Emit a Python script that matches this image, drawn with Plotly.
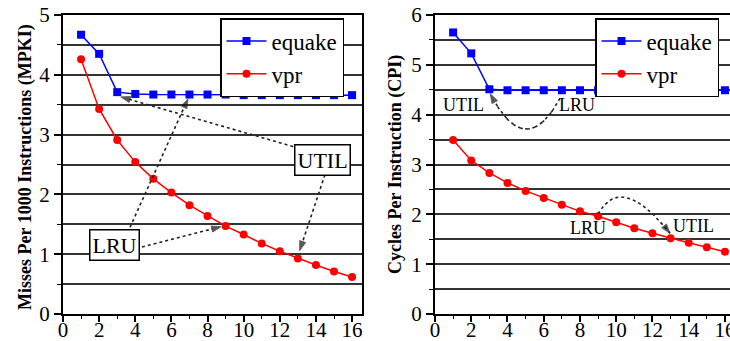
import plotly.graph_objects as go
import numpy as np

# ---------------- data ----------------
cache_ways = list(range(1, 17))
x_ticks = [0, 2, 4, 6, 8, 10, 12, 14, 16]

equake_mpki = [4.67, 4.35, 3.71, 3.68, 3.67, 3.67, 3.67, 3.67, 3.67, 3.66, 3.66, 3.66, 3.66, 3.66, 3.66, 3.66]
vpr_mpki = [4.26, 3.43, 2.91, 2.54, 2.26, 2.03, 1.82, 1.64, 1.47, 1.33, 1.18, 1.05, 0.93, 0.82, 0.71, 0.62]

equake_cpi = [5.65, 5.23, 4.51, 4.49, 4.49, 4.49, 4.49, 4.49, 4.49, 4.49, 4.49, 4.49, 4.49, 4.49, 4.49, 4.49]
vpr_cpi = [3.49, 3.08, 2.83, 2.63, 2.47, 2.33, 2.19, 2.06, 1.96, 1.84, 1.72, 1.62, 1.52, 1.43, 1.34, 1.25]

series_names = ["equake", "vpr"]
left_title = "Misses Per 1000 Instructions (MPKI)"
right_title = "Cycles Per Instruction (CPI)"

# ---------------- style ----------------
SERIF = "Liberation Serif"
BLUE = "#0000ff"
RED = "#ff0000"
GRID = "#333333"
W, H = 730, 341

fig = go.Figure()

def add_series(y, name, color, symbol, xa, ya, legend):
    fig.add_trace(go.Scatter(
        x=cache_ways, y=y, name=name, mode="lines+markers",
        line=dict(color=color, width=1.5),
        marker=dict(color=color, symbol=symbol, size=8),
        xaxis=xa, yaxis=ya, legend=legend, cliponaxis=False,
    ))

add_series(equake_mpki, series_names[0], BLUE, "square", "x", "y", "legend")
add_series(vpr_mpki, series_names[1], RED, "circle", "x", "y", "legend")
add_series(equake_cpi, series_names[0], BLUE, "square", "x2", "y2", "legend2")
add_series(vpr_cpi, series_names[1], RED, "circle", "x2", "y2", "legend2")

# ---------------- dotted arrows ----------------
def dotted_arrow(xs, ys, xa, ya):
    n = len(xs)
    fig.add_trace(go.Scatter(
        x=xs, y=ys, mode="lines+markers", showlegend=False, hoverinfo="skip",
        line=dict(color="#222222", width=1.6, dash="dot"),
        marker=dict(symbol="arrow", angleref="previous",
                    size=[0] * (n - 1) + [10], color="#111111"),
        xaxis=xa, yaxis=ya,
    ))

def bezier(p0, c, p2, n=40):
    t = np.linspace(0, 1, n)
    xs = (1 - t) ** 2 * p0[0] + 2 * (1 - t) * t * c[0] + t ** 2 * p2[0]
    ys = (1 - t) ** 2 * p0[1] + 2 * (1 - t) * t * c[1] + t ** 2 * p2[1]
    return list(xs), list(ys)

# left chart straight arrows
dotted_arrow([12.74, 3.2], [2.80, 3.63], "x", "y")    # UTIL -> equake
dotted_arrow([14.5, 13.1], [2.33, 1.06], "x", "y")    # UTIL -> vpr
dotted_arrow([3.71, 6.92], [1.45, 3.60], "x", "y")    # LRU -> equake
dotted_arrow([4.37, 8.75], [1.12, 1.46], "x", "y")    # LRU -> vpr

# right chart curved arrows
bx, by = bezier((6.9, 4.33), (5.0, 3.05), (3.05, 4.42))
dotted_arrow(bx, by, "x2", "y2")
bx, by = bezier((9.0, 2.01), (10.3, 2.84), (12.97, 1.62))
dotted_arrow(bx, by, "x2", "y2")

# ---------------- axes ----------------
tickfont = dict(family=SERIF, size=21, color="black")

def xaxis_cfg(domain, rng, anchor):
    return dict(
        domain=domain, range=rng, anchor=anchor, automargin=False,
        tickmode="array", tickvals=x_ticks, ticktext=[str(v) for v in x_ticks],
        ticks="outside", ticklen=6, tickwidth=1.5, tickcolor="black",
        ticklabelstandoff=-10, ticklabeloverflow="allow",
        minor=dict(tickmode="linear", tick0=0, dtick=1, ticks="outside", ticklen=3,
                   tickwidth=1.2, tickcolor="black"),
        showline=True, linewidth=2, linecolor="black", mirror=True,
        showgrid=False, zeroline=False, tickfont=tickfont, fixedrange=True,
    )

def yaxis_cfg(domain, rng, anchor, mirror):
    return dict(
        domain=domain, range=rng, anchor=anchor, automargin=False,
        tickmode="linear", tick0=0, dtick=1,
        ticks="outside", ticklen=7, tickwidth=1.5, tickcolor="black",
        showgrid=True, gridcolor=GRID, gridwidth=2,
        minor=dict(tickmode="linear", tick0=0, dtick=0.5, ticks="outside", ticklen=4,
                   tickwidth=1.2, tickcolor="black",
                   showgrid=True, gridcolor=GRID, gridwidth=2),
        showline=True, linewidth=2, linecolor="black", mirror=mirror,
        zeroline=False, tickfont=tickfont, fixedrange=True,
    )

ydom = [1 - 314 / H, 1 - 15 / H]

legend_style = dict(
    bgcolor="white", bordercolor="black", borderwidth=1.5,
    font=dict(family=SERIF, size=23, color="black"),
    xanchor="left", yanchor="top", tracegroupgap=0, itemwidth=40,
)

fig.update_layout(
    template="none",
    width=W, height=H,
    margin=dict(l=0, r=0, t=0, b=0, pad=0, autoexpand=False),
    paper_bgcolor="white", plot_bgcolor="white",
    xaxis=xaxis_cfg([63 / W, 362 / W], [0, 16.55], "y"),
    yaxis=yaxis_cfg(ydom, [0, 5], "x", True),
    xaxis2=xaxis_cfg([435 / W, 1.0], [0, 16.28], "y2"),
    yaxis2=yaxis_cfg(ydom, [0, 6], "x2", False),
    legend=dict(x=220 / W, y=1 - 18 / H, **legend_style),
    legend2=dict(x=595 / W, y=1 - 18 / H, **legend_style),
    showlegend=True,
)

# ---------------- annotations ----------------
box_font = dict(family=SERIF, size=22, color="black")
fig.add_annotation(x=14.35, y=2.58, xref="x", yref="y", text="UTIL", showarrow=False,
                   font=box_font, bgcolor="white", bordercolor="black", borderwidth=1.5, borderpad=2)
fig.add_annotation(x=2.85, y=1.15, xref="x", yref="y", text="LRU", showarrow=False,
                   font=box_font, bgcolor="white", bordercolor="black", borderwidth=1.5, borderpad=2)

small_font = dict(family=SERIF, size=18, color="black")
for tx, ty, label in [(1.6, 4.19, "UTIL"), (7.83, 4.19, "LRU"), (8.47, 1.72, "LRU"), (14.29, 1.77, "UTIL")]:
    fig.add_annotation(x=tx, y=ty, xref="x2", yref="y2", text=label, showarrow=False, font=small_font)

title_font = dict(family=SERIF, size=18, color="black", weight="bold")
fig.add_annotation(x=25 / W, y=1 - 167 / H, xref="paper", yref="paper", text=left_title,
                   xanchor="center", yanchor="middle",
                   textangle=-90, showarrow=False, font=title_font)
fig.add_annotation(x=395 / W, y=1 - 165 / H, xref="paper", yref="paper", text=right_title,
                   xanchor="center", yanchor="middle",
                   textangle=-90, showarrow=False, font=title_font)

fig.write_html("out.html", config={"displayModeBar": False},
               post_script="document.body.style.margin='0';")
